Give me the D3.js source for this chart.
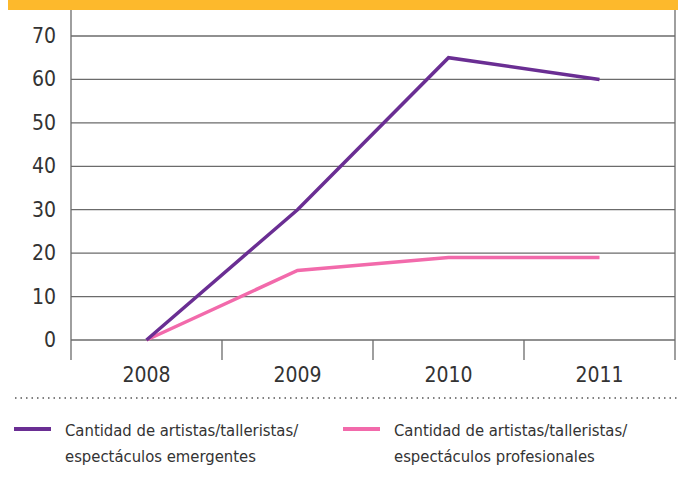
<!DOCTYPE html>
<html>
<head>
<meta charset="utf-8">
<script src="https://cdn.jsdelivr.net/npm/d3@7"></script>
<style>
  body { margin: 0; background: #fff; }
  svg { display: block; }
  .tick-label { font-family: "Liberation Sans Narrow", "DejaVu Sans Condensed", "Roboto", sans-serif; fill: #333; }
  .legend-text { font-family: "Liberation Sans Narrow", "DejaVu Sans Condensed", "Roboto", sans-serif; fill: #333; font-size: 16.5px; }
</style>
</head>
<body>
<div id="chart-area"></div>
<script>
// data
var years = ["2008", "2009", "2010", "2011"];
var emergentes = [0, 30, 65, 60];
var profesionales = [0, 16, 19, 19];
var y_ticks = [0, 10, 20, 30, 40, 50, 60, 70];
var legend_labels = [
    ["Cantidad de artistas/talleristas/", "espectáculos emergentes"],
    ["Cantidad de artistas/talleristas/", "espectáculos profesionales"]
];

var svg_width = 678, svg_height = 483;
var left = 71, right = 675, top_y = 10, bottom_y = 340;

var svg = d3.select("#chart-area").append("svg")
    .attr("width", svg_width)
    .attr("height", svg_height);

// orange band on top
svg.append("rect")
    .attr("x", 8).attr("y", 0)
    .attr("width", svg_width - 8).attr("height", 10)
    .attr("fill", "#fdb92c");

// scales
var x_scaling = d3.scaleBand().domain(years).range([left, right]);
var y_scaling = d3.scaleLinear().domain([0, 70]).range([bottom_y, 36]);

// gridlines
svg.append("g").selectAll("line")
    .data(y_ticks)
    .enter().append("line")
    .attr("x1", left).attr("x2", right)
    .attr("y1", function (d) { return y_scaling(d); })
    .attr("y2", function (d) { return y_scaling(d); })
    .attr("stroke", "#6b6b6b")
    .attr("stroke-width", 1.3);

// y labels
svg.append("g").selectAll("text")
    .data(y_ticks)
    .enter().append("text")
    .attr("class", "tick-label")
    .attr("x", 56)
    .attr("y", function (d) { return y_scaling(d) + 7; })
    .attr("text-anchor", "end")
    .attr("font-size", "21px")
    .text(function (d) { return d; });

// left / right frame lines
svg.append("line")
    .attr("x1", left).attr("x2", left)
    .attr("y1", top_y).attr("y2", 360)
    .attr("stroke", "#6b6b6b").attr("stroke-width", 1.3);
svg.append("line")
    .attr("x1", right).attr("x2", right)
    .attr("y1", top_y).attr("y2", 360)
    .attr("stroke", "#6b6b6b").attr("stroke-width", 1.3);

// x category separators
svg.append("g").selectAll("line")
    .data(years.slice(1))
    .enter().append("line")
    .attr("x1", function (d) { return x_scaling(d); })
    .attr("x2", function (d) { return x_scaling(d); })
    .attr("y1", bottom_y).attr("y2", 360)
    .attr("stroke", "#6b6b6b").attr("stroke-width", 1.3);

// x labels
svg.append("g").selectAll("text")
    .data(years)
    .enter().append("text")
    .attr("class", "tick-label")
    .attr("x", function (d) { return x_scaling(d) + x_scaling.bandwidth() / 2; })
    .attr("y", 382)
    .attr("text-anchor", "middle")
    .attr("font-size", "21px")
    .text(function (d) { return d; });

// lines
var line = d3.line()
    .x(function (d, i) { return x_scaling(years[i]) + x_scaling.bandwidth() / 2; })
    .y(function (d) { return y_scaling(d); });

svg.append("path")
    .datum(profesionales)
    .attr("d", line)
    .attr("fill", "none")
    .attr("stroke", "#f26aab")
    .attr("stroke-width", 3.5);

svg.append("path")
    .datum(emergentes)
    .attr("d", line)
    .attr("fill", "none")
    .attr("stroke", "#6a2e93")
    .attr("stroke-width", 3.5);

// dotted separator
svg.append("line")
    .attr("x1", 15).attr("x2", svg_width)
    .attr("y1", 398).attr("y2", 398)
    .attr("stroke", "#555")
    .attr("stroke-width", 1.3)
    .attr("stroke-dasharray", "1.5,4");

// legend
var legend_colors = ["#6a2e93", "#f26aab"];
var legend_x = [14, 343];
legend_labels.forEach(function (lab, i) {
    var row = svg.append("g")
        .attr("transform", "translate(" + legend_x[i] + ",0)");
    row.append("line")
        .attr("x1", 0).attr("x2", 37)
        .attr("y1", 429).attr("y2", 429)
        .attr("stroke", legend_colors[i])
        .attr("stroke-width", 4);
    lab.forEach(function (t, j) {
        row.append("text")
            .attr("class", "legend-text")
            .attr("x", 51)
            .attr("y", 436 + j * 26)
            .text(t);
    });
});
</script>
</body>
</html>
